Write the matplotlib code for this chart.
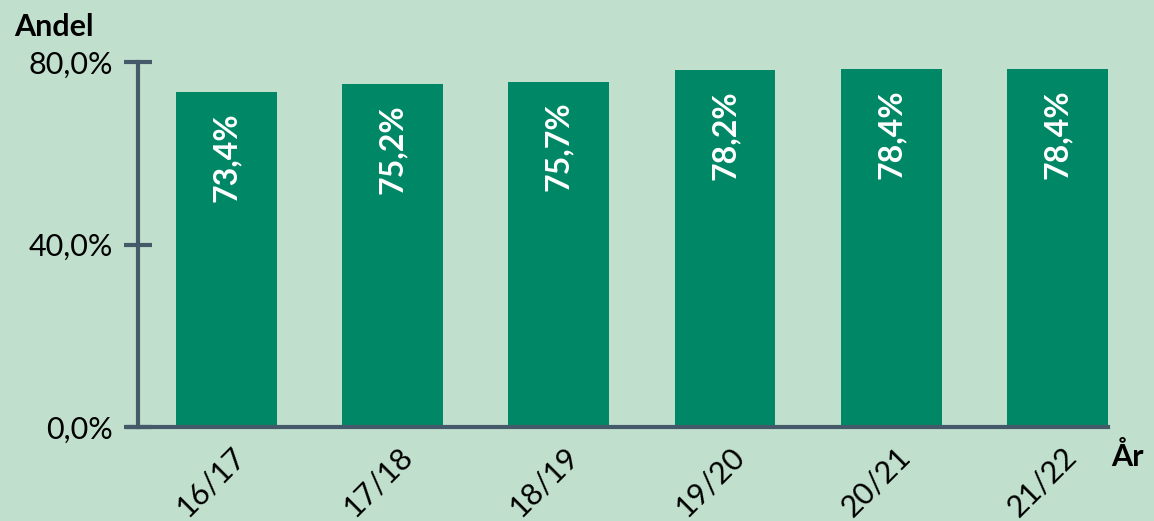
import matplotlib.pyplot as plt
import matplotlib.transforms as mtransforms

years = ['16/17', '17/18', '18/19', '19/20', '20/21', '21/22']
andel = [73.4, 75.2, 75.7, 78.2, 78.4, 78.4]
labels = ['73,4%', '75,2%', '75,7%', '78,2%', '78,4%', '78,4%']
yticks = [0, 40, 80]
ytick_labels = ['0,0%', '40,0%', '80,0%']

bg = '#c0e0cd'
bar_col = '#008866'
axis_col = '#44596a'

plt.rcParams['font.family'] = ['Lato', 'DejaVu Sans']

fig = plt.figure(figsize=(11.54, 5.21), dpi=100, facecolor=bg)
ax = fig.add_axes([0.1196, 0.1804, 0.8404, 0.7006])
ax.set_facecolor(bg)

x = range(len(years))
bars = ax.bar(x, andel, width=0.607, color=bar_col, zorder=2)

for b, lab in zip(bars, labels):
    ax.annotate(lab, (b.get_x() + b.get_width() / 2, b.get_height()),
                xytext=(0, -20), textcoords='offset pixels',
                rotation=90, ha='center', va='top', color='white',
                fontsize=23, fontweight='bold')

ax.set_xlim(-0.532, 5.304)
ax.set_ylim(0, 80)
ax.set_yticks(yticks)
ax.set_yticklabels(ytick_labels, fontsize=22)
ax.set_xticks(list(x))
ax.set_xticklabels([])

# x labels drawn as text so they can be nudged like the reference
offset = mtransforms.ScaledTranslation(0.05, -0.15, fig.dpi_scale_trans)
for i, yr in enumerate(years):
    ax.text(i, 0, yr, transform=ax.get_xaxis_transform() + offset,
            fontsize=22, rotation=45, ha='right', va='top',
            rotation_mode='anchor')

for s in ['top', 'right']:
    ax.spines[s].set_visible(False)
for s in ['left', 'bottom']:
    ax.spines[s].set_color(axis_col)
    ax.spines[s].set_linewidth(3)
    ax.spines[s].set_zorder(3)
ax.spines['bottom'].set_bounds(-0.532 - 0.06, 5.304)

ax.tick_params(axis='y', direction='inout', length=20, width=3, color=axis_col, pad=8)
ax.tick_params(axis='x', length=0)

fig.text(0.012, 0.948, 'Andel', fontsize=22, fontweight='bold', va='center')
fig.text(0.963, 0.123, 'År', fontsize=22, fontweight='bold', va='center')

fig.savefig('out.png', dpi=100, facecolor=bg)
